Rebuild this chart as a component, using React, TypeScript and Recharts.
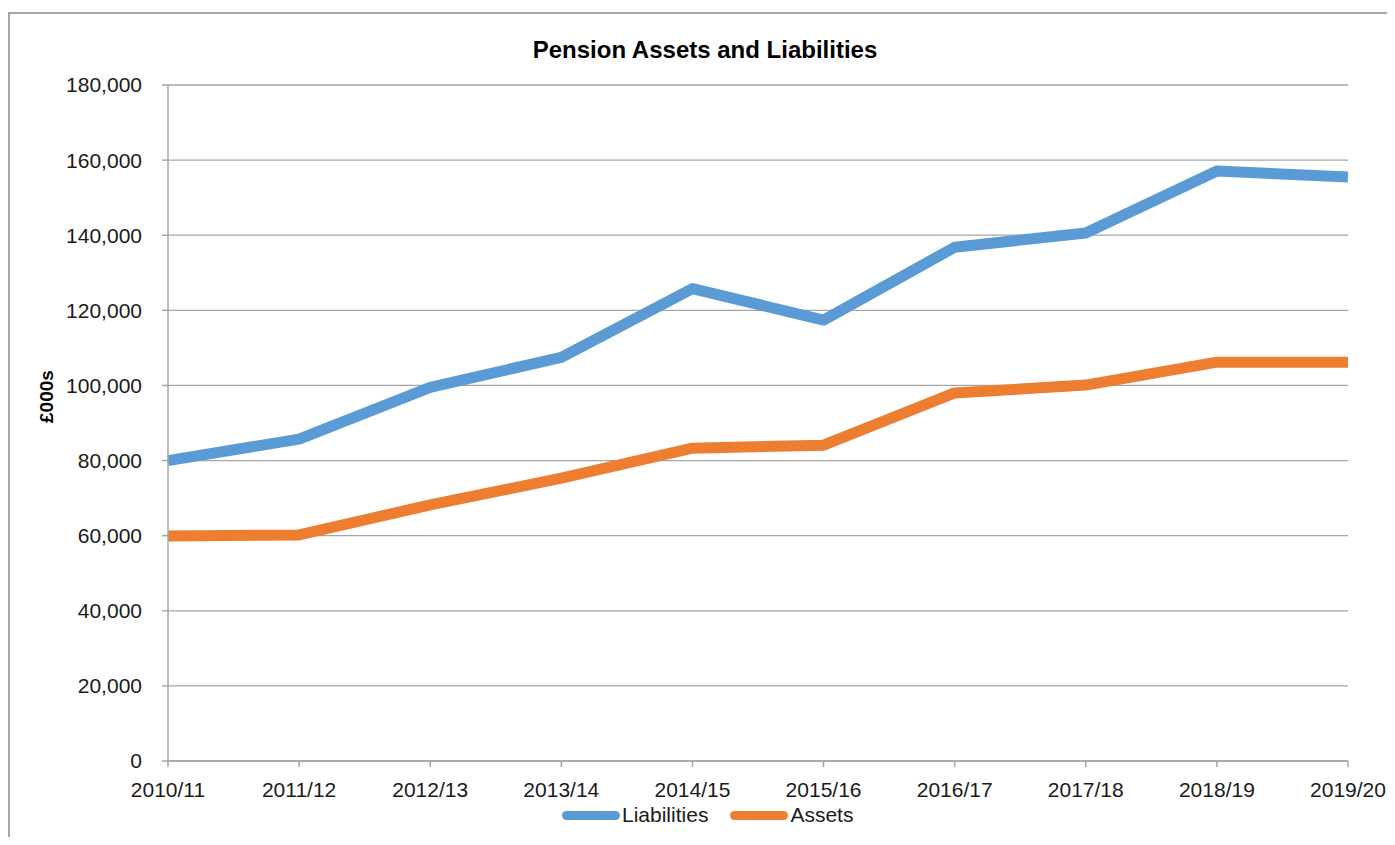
import { LineChart, Line, XAxis, YAxis, CartesianGrid } from 'recharts'

const years = ['2010/11', '2011/12', '2012/13', '2013/14', '2014/15', '2015/16', '2016/17', '2017/18', '2018/19', '2019/20']
const liabilities = [80000, 85700, 99500, 107500, 125800, 117400, 136800, 140600, 157100, 155500]
const assets = [59900, 60200, 68200, 75300, 83300, 84100, 98000, 100100, 106200, 106200]
const yTicks = [0, 20000, 40000, 60000, 80000, 100000, 120000, 140000, 160000, 180000]

const data = years.map((year, i) => ({ year, liabilities: liabilities[i], assets: assets[i] }))

const FONT = '"Liberation Sans", Arial, sans-serif'
const BLUE = '#5b9bd5'
const ORANGE = '#ed7d31'
const GRID = '#a6a6a6'

const fmt = (v: number) => v.toLocaleString('en-GB')

const series = [{ name: 'Liabilities', color: BLUE }, { name: 'Assets', color: ORANGE }]

export default function App() {
  return (
    <div style={{ position: 'relative', width: 1387, height: 829, overflow: 'hidden' }}>
      <div style={{
        position: 'absolute', left: 0, top: 4, width: 1500, height: 1000,
        border: '2px solid #a6a6a6', boxSizing: 'border-box',
      }} />
      <div style={{
        position: 'absolute', left: 0, top: 28, width: 1394, textAlign: 'center',
        fontFamily: FONT, fontWeight: 700, fontSize: 24, color: '#000',
      }}>
        Pension Assets and Liabilities
      </div>
      <div style={{ position: 'absolute', left: 0, top: 0 }}>
        <LineChart width={1387} height={829} data={data} margin={{ top: 77, right: 47, bottom: 0, left: 0 }}>
          <CartesianGrid vertical={false} stroke={GRID} strokeWidth={1.3} />
          <XAxis
            dataKey="year"
            padding={{ left: 0, right: 0 }}
            height={76}
            stroke={GRID}
            strokeWidth={1.5}
            tickSize={6}
            tickMargin={15}
            interval={0}
            tick={{ fontFamily: FONT, fontSize: 21, fill: '#1a1a1a' }}
          />
          <YAxis
            width={160}
            domain={[0, 180000]}
            ticks={yTicks}
            tickFormatter={fmt}
            stroke={GRID}
            strokeWidth={1.5}
            tickSize={6}
            tickMargin={20}
            tick={{ fontFamily: FONT, fontSize: 21, fill: '#1a1a1a' }}
            label={{ value: '£000s', angle: -90, position: 'insideLeft', offset: 38, fontFamily: FONT, fontSize: 19, fontWeight: 700, fill: '#000' }}
          />
          <Line dataKey="liabilities" name="Liabilities" stroke={BLUE} strokeWidth={11} strokeLinejoin="round" strokeLinecap="butt" dot={false} isAnimationActive={false} />
          <Line dataKey="assets" name="Assets" stroke={ORANGE} strokeWidth={11} strokeLinejoin="round" strokeLinecap="butt" dot={false} isAnimationActive={false} />
        </LineChart>
      </div>
      <div style={{
        position: 'absolute', left: 554, top: 795, display: 'flex', alignItems: 'center',
        fontFamily: FONT, fontSize: 21, color: '#1a1a1a',
      }}>
        {series.map((s) => (
          <div key={s.name} style={{ display: 'flex', alignItems: 'center', marginRight: 22 }}>
            <span style={{ display: 'inline-block', width: 58, height: 9, borderRadius: 5, background: s.color, marginRight: 2 }} />
            <span>{s.name}</span>
          </div>
        ))}
      </div>
    </div>
  )
}
